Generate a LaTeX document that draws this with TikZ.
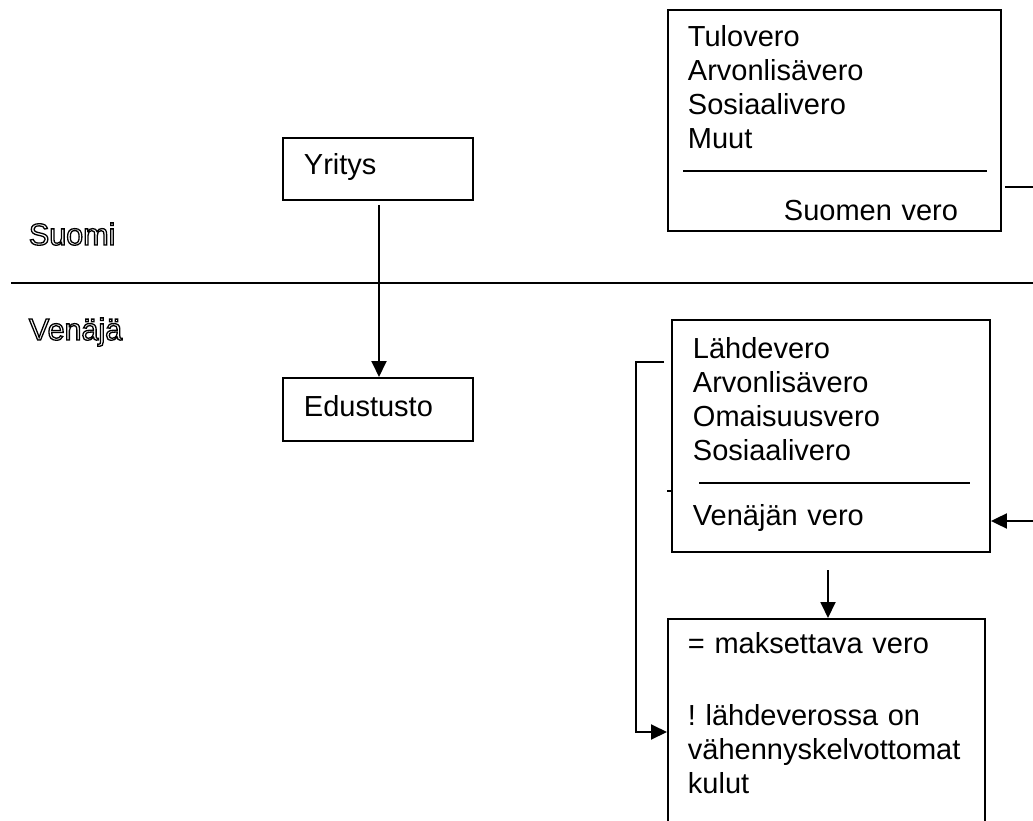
\documentclass[tikz,border=0pt]{standalone}
\usepackage{fontspec}
\setmainfont{Liberation Sans}
\usetikzlibrary{arrows.meta}
% hollow (stroked) lettering for the country labels
\newcommand\hollowtext[1]{\special{pdf:literal direct 1.3 w 1 Tr}#1\special{pdf:literal direct 0 Tr}}
\begin{document}
\frenchspacing
\begin{tikzpicture}[x=1pt,y=-1pt,line width=1.9pt,
  box/.style={draw,rectangle,inner sep=0pt,anchor=north west},
  txt/.style={anchor=base west,inner sep=0pt,text width=320pt,align=left,
    font=\fontsize{29}{34}\selectfont},
  country/.style={anchor=base west,inner sep=0pt,font=\fontsize{30.5}{34}\selectfont},
  arr/.style={-{Triangle[length=16pt,width=15pt]}}]
\path[use as bounding box] (0,0) rectangle (1033,821);
\clip (0,0) rectangle (1033,821);

% border between the two countries
\coordinate (bl) at (11,283);
\coordinate (br) at (1045,283);
\draw (bl) -- (br);

% Finnish company and the Russian representative office
\node[box,minimum width=190pt,minimum height=62pt] (yr) at (282,137) {};
\node[txt] (yrt) at (303,175) {Yritys};
\node[box,minimum width=190pt,minimum height=63pt] (ed) at (282,377) {};
\node[txt] (edt) at (303,416) {Edustusto};
\draw[arr,shorten <=4pt] (yr.south -| 379,0) -- (ed.north -| 379,0);

% Finnish taxes
\node[box,minimum width=333pt,minimum height=221pt] (fi) at (667,9) {};
\node[txt] (fit) at (687,47) {Tulovero\\Arvonlisävero\\Sosiaalivero\\Muut};
\coordinate (fil1) at (683,171);
\coordinate (fil2) at (987,171);
\draw (fil1) -- (fil2);
\node[txt] (fis) at (783,220) {Suomen vero};
\coordinate (fiout) at (1045,187);
\draw[shorten <=3pt] (fi.east |- fiout) -- (fiout);

% Russian taxes
\node[box,minimum width=318pt,minimum height=232pt] (ru) at (671,319) {};
\node[txt] (rut) at (692,358) {Lähdevero\\Arvonlisävero\\Omaisuusvero\\Sosiaalivero};
\coordinate (rul1) at (699,483);
\coordinate (rul2) at (970,483);
\draw (rul1) -- (rul2);
\node[txt] (rus) at (692,525) {Venäjän vero};
\coordinate (ruin) at (1045,521);
\draw[arr] (ruin) -- (ru.east |- ruin);
\coordinate (tick) at (667,491);
\draw (tick) -- (ru.west |- tick);

% tax payable
\node[box,minimum width=317pt,minimum height=260pt] (mk) at (667,618) {};
\node[txt] (mkt) at (687,653) {= maksettava vero\\[38pt]! lähdeverossa on\\vähennyskelvottomat\\kulut};
\coordinate (dn) at (828,570);
\draw[arr] (dn) -- (mk.north -| dn);

% withholding tax bracket
\coordinate (lh) at (636,362);
\coordinate (lk) at (636,732);
\draw[arr,shorten <=7pt] (ru.west |- lh) -- (lh) -- (lk) -- (mk.west |- lk);

% country labels
\node[country] (fin) at (28,245) {\hollowtext{Suomi}};
\node[country] (rus) at (28,340) {\hollowtext{Venäjä}};
\end{tikzpicture}
\end{document}
